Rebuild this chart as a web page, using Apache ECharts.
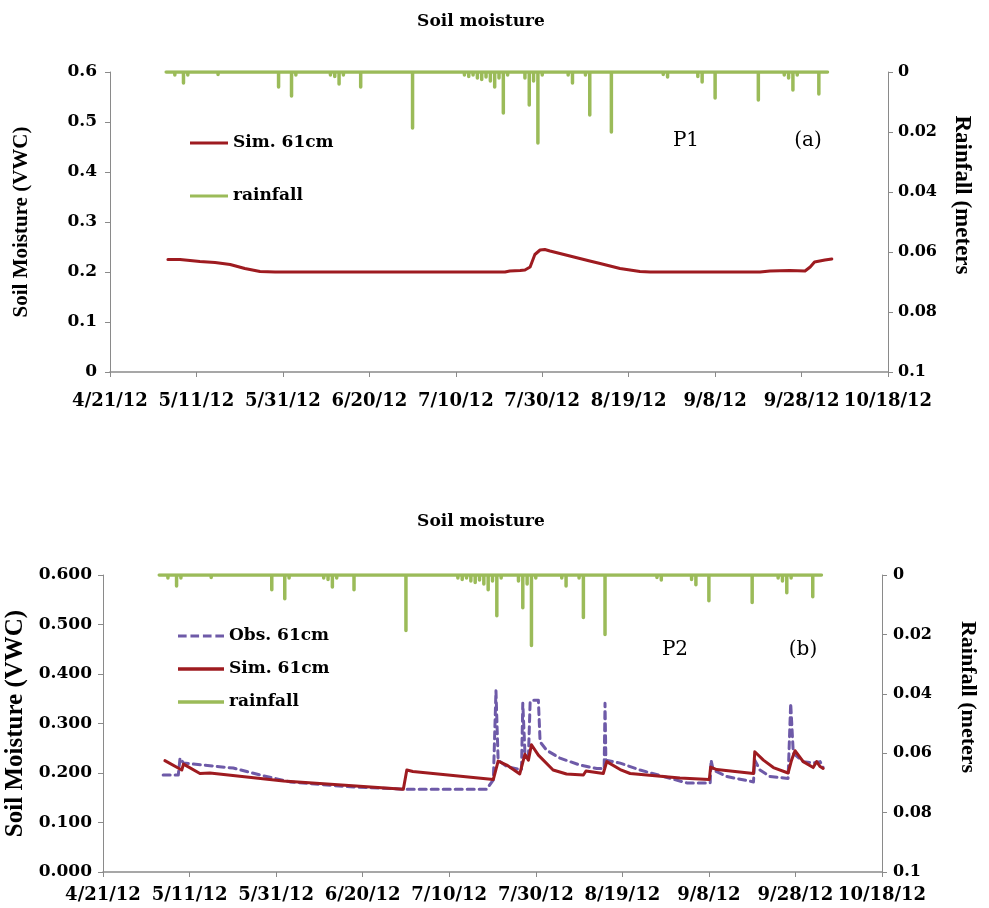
<!DOCTYPE html>
<html>
<head>
<meta charset="utf-8">
<script src="https://cdn.jsdelivr.net/npm/echarts@6/dist/echarts.min.js"></script>
<style>
  html, body { margin: 0; padding: 0; background: #fff; }
  #chart { width: 989px; height: 908px; }
</style>
</head>
<body>
<div id="chart"></div>
<script>
// x axis: days since 4/21/12
const tickLabels = ['4/21/12', '5/11/12', '5/31/12', '6/20/12', '7/10/12', '7/30/12', '8/19/12', '9/8/12', '9/28/12', '10/18/12']
const leftTopLabels = ['0', '0.1', '0.2', '0.3', '0.4', '0.5', '0.6']
const leftBotLabels = ['0.000', '0.100', '0.200', '0.300', '0.400', '0.500', '0.600']
const rightLabels = ['0', '0.02', '0.04', '0.06', '0.08', '0.1']

// daily rainfall (meters), first value is day 13 (5/4/12)
const rainStartDay = 13
const rainfall = [
  0, 0.0005, 0.001, 0.0005, 0.0037, 0.001, 0, 0.0005, 0, 0.0005,
  0.0005, 0, 0.0008, 0.0005, 0, 0, 0.0005, 0, 0, 0.0005,
  0, 0, 0.0005, 0, 0, 0, 0.005, 0.0005, 0, 0.008,
  0.001, 0, 0, 0, 0.0005, 0, 0, 0, 0.001, 0.0015,
  0.004, 0.001, 0, 0, 0, 0.005, 0, 0, 0, 0.0005,
  0, 0, 0, 0, 0, 0, 0, 0.0187, 0, 0,
  0, 0, 0.0005, 0, 0, 0, 0, 0, 0.0005, 0.001,
  0.0015, 0.001, 0.002, 0.0025, 0.0017, 0.003, 0.005, 0.002, 0.0137, 0.001,
  0, 0.0005, 0, 0.002, 0.011, 0.003, 0.0237, 0.001, 0, 0,
  0, 0, 0.0005, 0.001, 0.0037, 0.0005, 0, 0.001, 0.0143, 0,
  0, 0, 0, 0.02, 0, 0, 0.0005, 0, 0, 0,
  0, 0.0005, 0, 0, 0, 0.0008, 0.0017, 0, 0, 0,
  0, 0, 0.0005, 0.0015, 0.0033, 0, 0, 0.0087, 0, 0,
  0, 0, 0, 0, 0.0005, 0, 0, 0.0093, 0, 0,
  0, 0, 0.0005, 0.001, 0.002, 0.006, 0.001, 0, 0, 0.0005,
  0, 0.0073, 0, 0
]

// panel (a) P1 simulated
const simTopDays = [13.4, 16.2, 20.8, 24.3, 27.8, 31.2, 34.7, 38.2, 91.4, 92.5, 94.9, 96, 97.2, 98.3, 99.5, 100.6, 101.8, 104.1, 106.4, 108.7, 111, 113.4, 115.7, 118, 120.3, 122.6, 125, 150.4, 152.7, 157.3, 160.8, 162, 163, 165.4, 167]
const simTopVals = [0.225, 0.225, 0.221, 0.219, 0.215, 0.207, 0.201, 0.2, 0.2, 0.202, 0.203, 0.204, 0.21, 0.235, 0.244, 0.245, 0.242, 0.237, 0.232, 0.227, 0.222, 0.217, 0.212, 0.207, 0.204, 0.201, 0.2, 0.2, 0.202, 0.203, 0.202, 0.21, 0.22, 0.224, 0.226]

// panel (b) P2 simulated
const simBotDays = [14.3, 18.2, 18.6, 22.4, 24.7, 41.7, 69.4, 70.2, 71.6, 90.2, 91.3, 93.3, 96.3, 97.5, 98.3, 99, 100.6, 104, 107.1, 111, 111.6, 115.6, 116.4, 119.5, 121.8, 133.3, 140.1, 140.4, 141.8, 150.3, 150.6, 152.6, 154.9, 158.3, 159.1, 159.9, 161.8, 164.1, 164.9, 165.7, 166.4]
const simBotVals = [0.225, 0.206, 0.218, 0.199, 0.2, 0.184, 0.167, 0.206, 0.203, 0.187, 0.224, 0.216, 0.198, 0.238, 0.226, 0.257, 0.236, 0.206, 0.198, 0.196, 0.204, 0.199, 0.223, 0.207, 0.199, 0.19, 0.187, 0.212, 0.207, 0.199, 0.243, 0.226, 0.211, 0.2, 0.226, 0.245, 0.223, 0.211, 0.223, 0.213, 0.209]

// panel (b) P2 observed
const obsBotDays = [13.9, 17.4, 17.8, 18.6, 30.1, 36.3, 43.2, 57.1, 70.2, 88.6, 90.2, 90.8, 91.3, 93.3, 96.7, 97, 97.5, 98.3, 98.7, 99.4, 100.6, 101, 102.5, 105.6, 110.2, 114.1, 115.8, 116, 116.2, 119.5, 124.1, 129.5, 134.9, 140.3, 140.5, 141, 144.1, 150.3, 150.6, 151.8, 154.1, 158.3, 158.9, 159.5, 161.8, 164.1, 165.7, 166.4]
const obsBotVals = [0.196, 0.196, 0.23, 0.22, 0.21, 0.196, 0.182, 0.172, 0.167, 0.167, 0.186, 0.366, 0.226, 0.213, 0.206, 0.341, 0.24, 0.233, 0.344, 0.347, 0.347, 0.263, 0.246, 0.23, 0.216, 0.209, 0.209, 0.341, 0.226, 0.22, 0.206, 0.193, 0.18, 0.18, 0.226, 0.206, 0.193, 0.182, 0.226, 0.206, 0.193, 0.189, 0.341, 0.24, 0.223, 0.22, 0.223, 0.211]

const zip = (xs, ys) => xs.map((x, i) => [x, ys[i]])
// rainfall drawn as impulses: each day drops from the 0 baseline to its value and back
const rainData = []
rainfall.forEach((v, i) => {
  const d = rainStartDay + i
  if (v > 0) rainData.push([d, 0], [d, v], [d, 0])
  else rainData.push([d, 0])
})

const wide = "'DejaVu Serif', serif"
const serif = "'Liberation Serif', 'Times New Roman', serif"
const axisGray = '#8a8a8a'
const red = '#9e1b20'
const green = '#9bbb59'
const purple = '#6e5aa8'

function xAxisFor(grid, margin) {
  return {
    type: 'value', gridIndex: grid, min: 0, max: 180, interval: 20,
    splitLine: { show: false },
    axisLine: { lineStyle: { color: axisGray, width: 1.5 } },
    axisTick: { length: 5, lineStyle: { color: axisGray } },
    axisLabel: {
      margin: margin, color: '#000', fontFamily: wide, fontWeight: 'bold', fontSize: 18,
      formatter: v => tickLabels[Math.round(v / 20)]
    }
  }
}

function leftAxis(grid, labels, margin, nameGap, nameSize) {
  return {
    type: 'value', gridIndex: grid, min: 0, max: 0.6, interval: 0.1,
    name: 'Soil Moisture (VWC)', nameLocation: 'middle', nameGap: nameGap,
    nameTextStyle: { color: '#000', fontFamily: serif, fontWeight: 'bold', fontSize: nameSize },
    splitLine: { show: false },
    axisLine: { show: true, lineStyle: { color: axisGray } },
    axisTick: { show: true, length: 5, lineStyle: { color: axisGray } },
    axisLabel: {
      margin: margin, color: '#000', fontFamily: wide, fontWeight: 'bold', fontSize: 17,
      formatter: v => labels[Math.round(v * 10)]
    }
  }
}

function rightAxis(grid, margin) {
  return {
    type: 'value', gridIndex: grid, position: 'right', inverse: true,
    min: 0, max: 0.1, interval: 0.02,
    splitLine: { show: false },
    axisLine: { show: true, lineStyle: { color: axisGray } },
    axisTick: { show: true, length: 5, lineStyle: { color: axisGray } },
    axisLabel: {
      margin: margin, color: '#000', fontFamily: wide, fontWeight: 'bold', fontSize: 16,
      formatter: v => rightLabels[Math.round(v * 50)]
    }
  }
}

function lineSeries(name, data, xi, yi, color, width, dash) {
  return {
    name: name, type: 'line', data: data, xAxisIndex: xi, yAxisIndex: yi,
    showSymbol: false, symbol: 'none',
    lineStyle: { color: color, width: width, type: dash ? [7, 5] : 'solid', join: 'round', cap: 'round' },
    itemStyle: { color: color },
    emphasis: { disabled: true }
  }
}

function txt(x, y, text, font, rot) {
  return {
    type: 'text', x: x, y: y, rotation: rot || 0,
    style: { text: text, fill: '#000', font: font, align: 'center', verticalAlign: 'middle' }
  }
}

const solidIcon = 'path://M0,0h40v3h-40z'
const dashIcon = 'path://M0,0h9v3h-9z M13,0h9v3h-9z M26,0h9v3h-9z M39,0h9v3h-9z'
const legendText = { color: '#000', fontFamily: wide, fontWeight: 'bold', fontSize: 17, lineHeight: 20 }

let chart = echarts.init(document.getElementById('chart'))
let option = {
  animation: false,
  grid: [
    { left: 110, top: 72, width: 778, height: 300, outerBoundsMode: 'none' },
    { left: 103, top: 575, width: 779, height: 297, outerBoundsMode: 'none' }
  ],
  legend: [
    {
      data: [{ name: 'Sim. 61cm', icon: solidIcon }, { name: 'rainfall', icon: solidIcon }],
      orient: 'vertical', left: 185, top: 128, itemWidth: 38, itemHeight: 14, itemGap: 33,
      textStyle: legendText, selectedMode: false
    },
    {
      data: [{ name: 'Obs. 61cm', icon: dashIcon }, { name: 'Sim. 61cm', icon: solidIcon }, { name: 'rainfall', icon: solidIcon }],
      orient: 'vertical', left: 173, top: 621, itemWidth: 46, itemHeight: 14, itemGap: 13,
      textStyle: legendText, selectedMode: false
    }
  ],
  xAxis: [xAxisFor(0, 20), xAxisFor(1, 14)],
  yAxis: [
    leftAxis(0, leftTopLabels, 13, 78, 21),
    rightAxis(0, 10),
    leftAxis(1, leftBotLabels, 11, 74, 25),
    rightAxis(1, 11)
  ],
  series: [
    lineSeries('Sim. 61cm', zip(simTopDays, simTopVals), 0, 0, red, 3),
    lineSeries('rainfall', rainData, 0, 1, green, 3.5),
    lineSeries('Obs. 61cm', zip(obsBotDays, obsBotVals), 1, 2, purple, 3, true),
    lineSeries('Sim. 61cm', zip(simBotDays, simBotVals), 1, 2, red, 3),
    lineSeries('rainfall', rainData, 1, 3, green, 3.5)
  ],
  graphic: [
    txt(481, 22, 'Soil moisture', 'bold 17px ' + wide),
    txt(481, 522, 'Soil moisture', 'bold 17px ' + wide),
    txt(686, 141, 'P1', '20px ' + wide),
    txt(808, 141, '(a)', '20px ' + wide),
    txt(675, 650, 'P2', '20px ' + wide),
    txt(803, 650, '(b)', '20px ' + wide),
    txt(962, 195, 'Rainfall (meters', 'bold 23px ' + serif, -Math.PI / 2),
    txt(968, 697, 'Rainfall (meters', 'bold 22px ' + serif, -Math.PI / 2)
  ]
}
chart.setOption(option)
</script>
</body>
</html>
